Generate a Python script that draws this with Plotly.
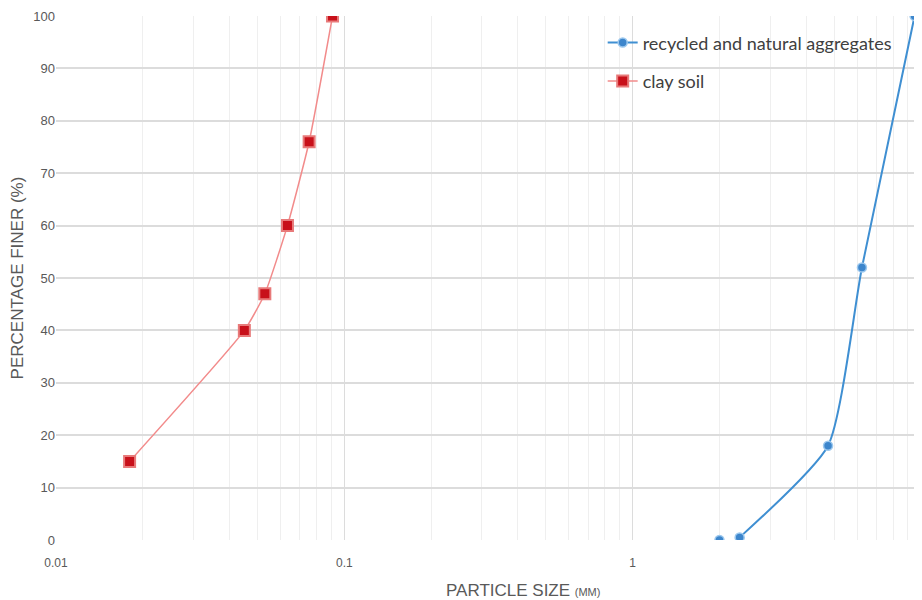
import plotly.graph_objects as go

# Data
agg_size = [2.35, 4.76, 6.24, 9.5]
agg_finer = [0.5, 18, 52, 100]
agg_extra_size = [2.0]
agg_extra_finer = [0]
clay_size = [0.018, 0.045, 0.053, 0.0635, 0.0755, 0.091]
clay_finer = [15, 40, 47, 60, 76, 100]
x_tickvals = [0.01, 0.1, 1, 10]
x_ticktext = ["0.01", "0.1", "1", "10"]

BLUE_LINE = "#3f8fd2"
BLUE_MK = "#3d86cc"
RED_LINE = "#f28b8b"
RED_MK = "#c8101a"
TXT = "#595959"

W, H = 914, 592
L, R, T, B = 48, 1, 8, 60

fig = go.Figure()
fig.add_trace(go.Scatter(
    x=agg_size, y=agg_finer, mode="lines+markers",
    name="recycled and natural aggregates", legendgroup="agg",
    line=dict(color=BLUE_LINE, width=2, shape="spline", smoothing=0.55),
    marker=dict(symbol="circle", size=9, color=BLUE_MK,
                line=dict(color="#9cc8ee", width=1.5)),
))
fig.add_trace(go.Scatter(
    x=agg_extra_size, y=agg_extra_finer, mode="markers",
    legendgroup="agg", showlegend=False,
    marker=dict(symbol="circle", size=9, color=BLUE_MK,
                line=dict(color="#9cc8ee", width=1.5)),
))
fig.add_trace(go.Scatter(
    x=clay_size, y=clay_finer, mode="lines+markers",
    name="clay soil",
    line=dict(color=RED_LINE, width=1.5, shape="spline", smoothing=0.5),
    marker=dict(symbol="square", size=11, color=RED_MK,
                line=dict(color="#e87a7a", width=2)),
))

fig.update_layout(
    width=W, height=H,
    margin=dict(l=L, r=R, t=T, b=B, autoexpand=False),
    paper_bgcolor="white", plot_bgcolor="white",
    font=dict(family="Liberation Sans Narrow, Liberation Sans, Arial", size=12, color=TXT),
    showlegend=True,
    legend=dict(x=0.632, y=0.984, xanchor="left", yanchor="top",
                font=dict(family="Lato, Carlito, sans-serif", size=18, color="#404040"),
                bgcolor="rgba(0,0,0,0)", tracegroupgap=12, itemwidth=30),
    xaxis=dict(
        type="log", range=[-2, 1],
        tickvals=x_tickvals, ticktext=x_ticktext,
        showgrid=True, gridcolor="#dcdcdc", gridwidth=1,
        minor=dict(showgrid=True, gridcolor="#efefef", gridwidth=1,
                   tickvals=[m * d for d in [0.01, 0.1, 1] for m in range(2, 10)]),
        showline=False, zeroline=False, ticks="outside", ticklen=12,
        tickcolor="rgba(0,0,0,0)",
        tickfont=dict(size=12, color=TXT),
    ),
    yaxis=dict(
        range=[0, 100], dtick=10,
        showgrid=True, gridcolor="#dcdcdc", gridwidth=1.5,
        zeroline=False, showline=False, ticks="",
        tickfont=dict(size=13, color=TXT),
        title=dict(text="PERCENTAGE FINER (%)", standoff=12,
                   font=dict(family="Liberation Sans, Arial", size=17, color=TXT)),
    ),
)

fig.add_annotation(
    text="PARTICLE SIZE <span style='font-size:11px'>(MM)</span>",
    xref="paper", yref="paper", x=(515 - L) / (W - L - R), y=-(582 - (H - B)) / (H - T - B),
    xanchor="center", yanchor="middle", showarrow=False,
    font=dict(family="Liberation Sans Narrow, Liberation Sans, Arial", size=17, color=TXT),
)

fig.write_html("out.html")
